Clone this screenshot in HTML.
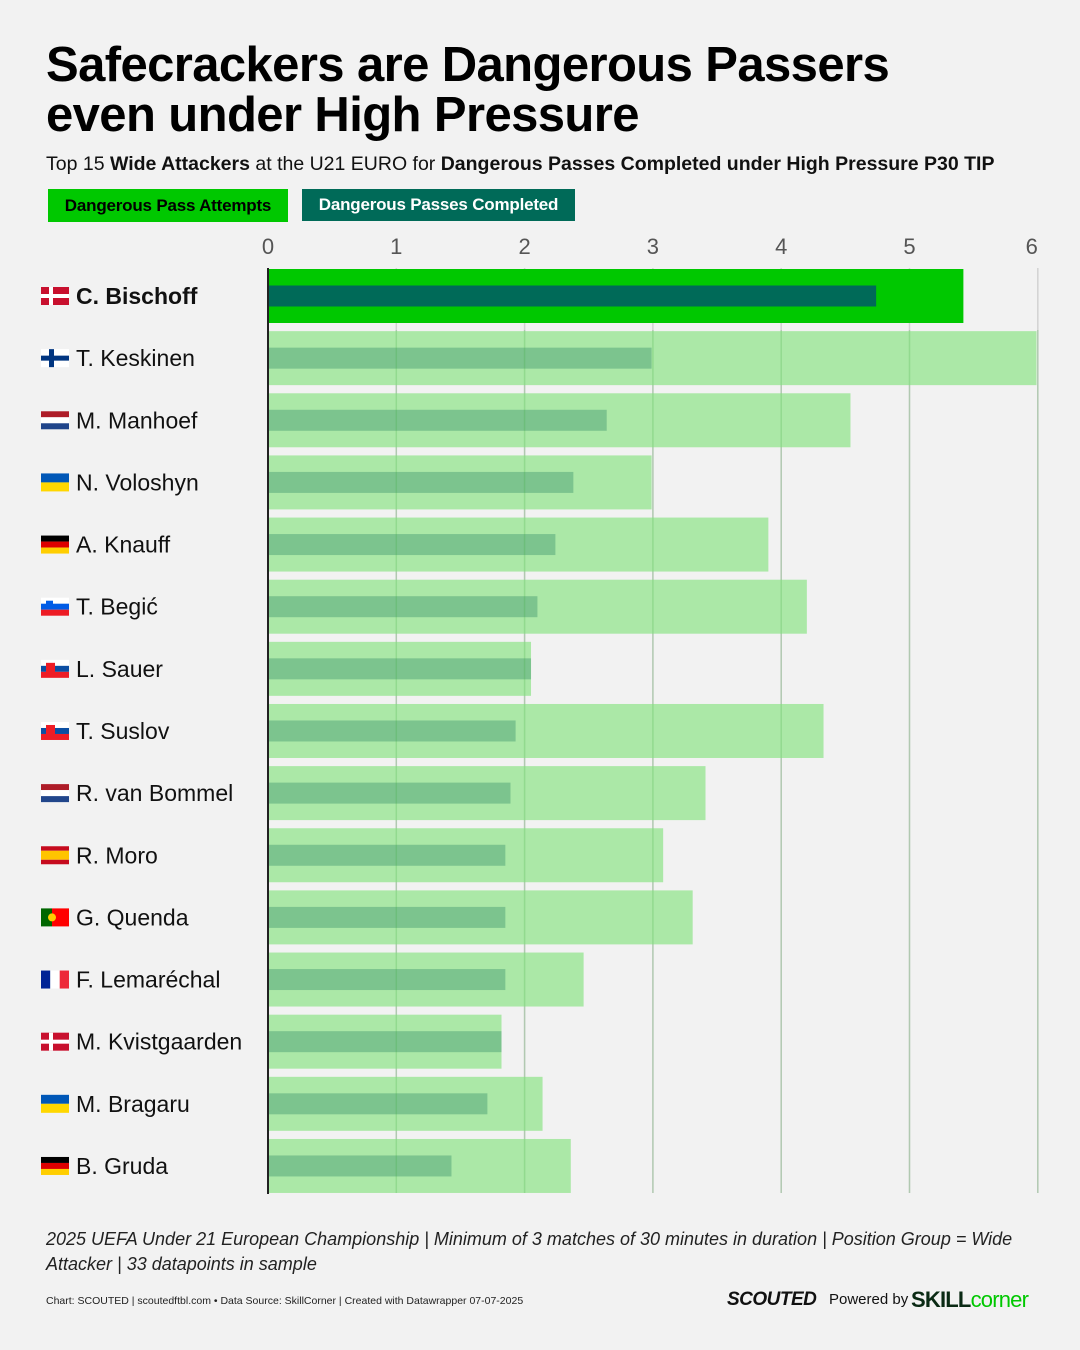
<!DOCTYPE html>
<html><head><meta charset="utf-8">
<style>
body{margin:0;width:1080px;height:1350px;background:#f2f2f2;font-family:"Liberation Sans",sans-serif;position:relative;overflow:hidden}
.t{position:absolute;left:46px;font-weight:900;font-size:49px;letter-spacing:-0.6px;color:#000;line-height:50px}
</style></head><body>
<div class="t" style="top:40px">Safecrackers are Dangerous Passers<br>even under High Pressure</div>
<div style="position:absolute;left:46px;top:153px;font-size:19.5px;color:#111">Top 15 <b>Wide Attackers</b> at the U21 EURO for <b>Dangerous Passes Completed under High Pressure P30 TIP</b></div>
<div style="position:absolute;left:48px;top:189px;width:240px;height:33px;background:#00c800;color:#000;font-weight:bold;font-size:17px;line-height:33px;text-align:center;letter-spacing:-0.2px">Dangerous Pass Attempts</div>
<div style="position:absolute;left:302px;top:189px;width:273px;height:32px;background:#006a58;color:#fff;font-weight:bold;font-size:17px;line-height:32px;text-align:center;letter-spacing:-0.2px">Dangerous Passes Completed</div>
<svg id="chart" width="1080" height="1210" style="position:absolute;left:0;top:0"></svg>
<div style="position:absolute;left:46px;top:1227px;width:1000px;font-size:18px;font-style:italic;color:#222;line-height:25px">2025 UEFA Under 21 European Championship | Minimum of 3 matches of 30 minutes in duration | Position Group = Wide Attacker | 33 datapoints in sample</div>
<div style="position:absolute;left:46px;top:1295px;font-size:10.5px;color:#222">Chart: SCOUTED | scoutedftbl.com • Data Source: SkillCorner | Created with Datawrapper 07-07-2025</div>
<div style="position:absolute;left:727px;top:1289px;font-size:19px;font-weight:900;font-style:italic;color:#111;letter-spacing:-0.5px">SCOUTED</div>
<div style="position:absolute;left:829px;top:1291px;font-size:15px;color:#111">Powered by</div>
<div style="position:absolute;left:911px;top:1287px;font-size:22px;font-weight:bold;color:#0a2a14;letter-spacing:-0.8px">SKILL<span style="color:#00c800;font-weight:normal">corner</span></div>
<script>
const names=["C. Bischoff","T. Keskinen","M. Manhoef","N. Voloshyn","A. Knauff","T. Begić","L. Sauer","T. Suslov","R. van Bommel","R. Moro","G. Quenda","F. Lemaréchal","M. Kvistgaarden","M. Bragaru","B. Gruda"];
const flags=["dk","fi","nl","ua","de","si","sk","sk","nl","es","pt","fr","dk","ua","de"];
const attempts=[5.42,5.99,4.54,2.99,3.90,4.20,2.05,4.33,3.41,3.08,3.31,2.46,1.82,2.14,2.36];
const completed=[4.74,2.99,2.64,2.38,2.24,2.10,2.05,1.93,1.89,1.85,1.85,1.85,1.82,1.71,1.43];
const ticks=[0,1,2,3,4,5,6];
const svg=document.getElementById('chart');const NS='http://www.w3.org/2000/svg';
const x0=268,unit=128.3,y0=296,step=62.14;
const X=v=>x0+v*unit, Y=i=>y0+i*step;
function mk(t,a,p){const e=document.createElementNS(NS,t);for(const k in a)e.setAttribute(k,a[k]);(p||svg).appendChild(e);return e;}
ticks.forEach(t=>{
 const l=mk('line',{x1:X(t),x2:X(t),y1:268,y2:1193,stroke:'#d2d2d2','stroke-width':1.5});
 
 
 const tx=mk('text',{x:X(t)+(t==6?-6:0),y:254,'font-size':22,fill:'#555','text-anchor':'middle','font-family':'Liberation Sans'});tx.textContent=t;
 
 
});
function flag(c,x,y,g){
 const w=28,h=18;
 const r=(xx,yy,ww,hh,f)=>mk('rect',{x:x+xx,y:y+yy,width:ww,height:hh,fill:f},g);
 if(c=='dk'){r(0,0,w,h,'#c8102e');r(8,0,4,h,'#fff');r(0,7,w,4,'#fff');}
 else if(c=='fi'){r(0,0,w,h,'#fff');r(8,0,5,h,'#003580');r(0,6.5,w,5,'#003580');}
 else if(c=='nl'){r(0,0,w,6,'#ae1c28');r(0,6,w,6,'#fff');r(0,12,w,6,'#21468b');}
 else if(c=='ua'){r(0,0,w,9,'#0057b7');r(0,9,w,9,'#ffd700');}
 else if(c=='de'){r(0,0,w,6,'#000');r(0,6,w,6,'#dd0000');r(0,12,w,6,'#ffce00');}
 else if(c=='si'){r(0,0,w,6,'#fff');r(0,6,w,6,'#005ce6');r(0,12,w,6,'#ed1c24');r(5,3,7,8,'#005ce6');}
 else if(c=='sk'){r(0,0,w,6,'#fff');r(0,6,w,6,'#0b4ea2');r(0,12,w,6,'#ee1c25');r(5,3,9,11,'#ee1c25');}
 else if(c=='es'){r(0,0,w,4.5,'#c60b1e');r(0,4.5,w,9,'#ffc400');r(0,13.5,w,4.5,'#c60b1e');}
 else if(c=='pt'){r(0,0,11,h,'#006600');r(11,0,17,h,'#ff0000');mk('circle',{cx:x+11,cy:y+9,r:4,fill:'#ffcc00'},g);}
 else if(c=='fr'){r(0,0,9.3,h,'#002395');r(9.3,0,9.4,h,'#fff');r(18.7,0,9.3,h,'#ed2939');}
}
names.forEach((n,i)=>{
 const y=Y(i),top=i==0;
 const g=mk('g',{});
 
 
 const a=mk('rect',{x:x0,y:y-27,width:X(attempts[i])-x0,height:54,fill:top?'#00c800':'#abe8a7'},g);
 
 
 const c=mk('rect',{x:x0,y:y-10.5,width:X(completed[i])-x0,height:21,fill:top?'#006a58':'#7cc48e'},g);
 
 
 flag(flags[i],41,y-9,g);
 const t=mk('text',{x:76,y:y+8,'font-size':23,fill:'#111','font-family':'Liberation Sans','font-weight':top?'bold':'normal'},g);
 t.textContent=n;
 
 
});
ticks.slice(1).forEach(t=>{
 const l=mk('line',{x1:X(t),x2:X(t),y1:330,y2:1193,stroke:'rgba(60,170,60,0.22)','stroke-width':1.5});
 
 
});
const ax=mk('line',{x1:x0,x2:x0,y1:268,y2:1194,stroke:'#222','stroke-width':2});


</script>
</body></html>
